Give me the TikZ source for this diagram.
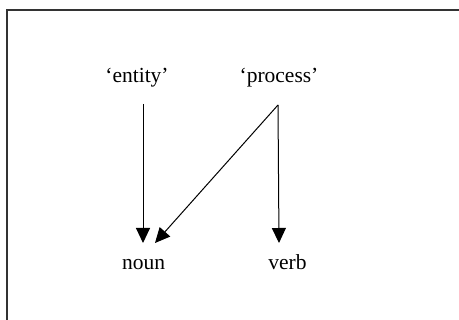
\documentclass[tikz,border=0pt]{standalone}
\usepackage{fontspec}
\setmainfont{Liberation Serif}
\usetikzlibrary{arrows.meta}
\begin{document}
\begin{tikzpicture}[x=1pt,y=-1pt,
  lbl/.style={inner sep=0pt,anchor=base,font=\fontsize{21.5}{26}\selectfont},
  conn/.style={line width=1pt,-{Triangle[length=15pt,width=14pt]}},
  frame/.style={line width=1.1pt,draw=black!80}]
\useasboundingbox (0,0) rectangle (459,320);
\draw[frame] (7,320) -- (7,10) -- (459,10);
\node[lbl] (entity) at (137,83) {‘entity’};
\node[lbl] (process) at (279,83) {‘process’};
\node[lbl] (noun) at (143.5,270) {noun};
\node[lbl] (verb) at (287.5,270) {verb};
\coordinate (es) at (143,104);
\coordinate (ps) at (278,105);
\coordinate (ne) at (143,243);
\coordinate (nd) at (155,243);
\coordinate (ve) at (279,243);
\draw[conn] (es) -- (ne);
\draw[conn] (ps) -- (nd);
\draw[conn] (ps) -- (ve);
\end{tikzpicture}
\end{document}
